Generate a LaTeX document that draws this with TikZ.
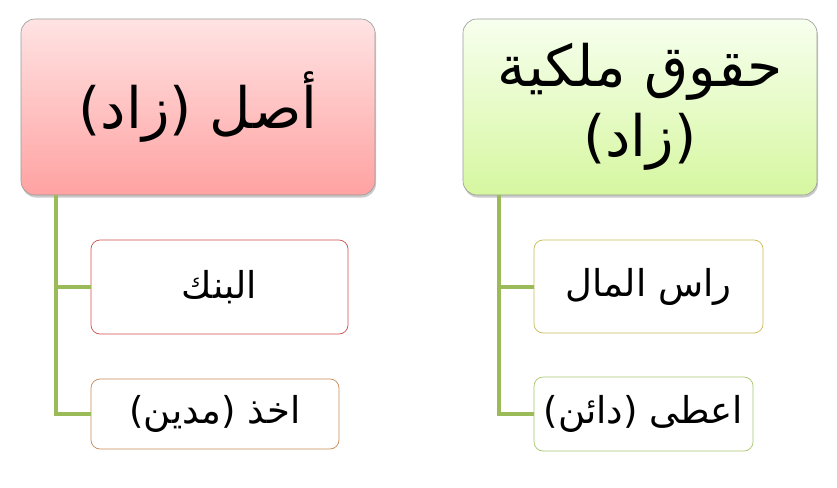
\documentclass[tikz,border=0pt]{standalone}
\usepackage{fontspec}
\newfontfamily\arabicfont[Script=Arabic]{DejaVu Sans}
\TeXXeTstate=1
\usetikzlibrary{shadows}
\definecolor{linegreen}{HTML}{9BBB59}
\definecolor{pinktop}{HTML}{FFE3E3}
\definecolor{pinkbot}{HTML}{FFA2A2}
\definecolor{greentop}{HTML}{F7FFEE}
\definecolor{greenbot}{HTML}{D6F7A0}
\definecolor{bRed}{HTML}{D0504D}
\definecolor{bOrange}{HTML}{C98A55}
\definecolor{bOlive}{HTML}{C8BA58}
\definecolor{bGreen}{HTML}{A8C670}
\tikzset{
  header/.style={draw=black!40, line width=0.6pt, rounded corners=14pt,
    minimum width=354pt, minimum height=176pt, align=center,
    font=\arabicfont\fontsize{57}{70}\selectfont,
    drop shadow={shadow xshift=1pt, shadow yshift=-2.5pt, opacity=0.35, fill=black!60}},
  child/.style={draw, line width=0.7pt, rounded corners=9pt, fill=white,
    align=center, font=\arabicfont\fontsize{37}{44}\selectfont},
  conn/.style={draw=linegreen, line width=4pt}
}
\begin{document}
\begin{tikzpicture}[x=1pt,y=-1pt]
\useasboundingbox (0,0) rectangle (837,487);
% headers
\node[header, top color=pinktop, bottom color=pinkbot] (lh) at (198,107) {\beginR أصل (زاد)\endR};
\node[header, top color=greentop, bottom color=greenbot] (rh) at (640,107) {\beginR حقوق ملكية\endR\\\beginR(زاد)\endR};
% children
\node[child, draw=bRed, minimum width=257pt, minimum height=94pt] (l1) at (219.5,287) {\beginR البنك\endR};
\node[child, draw=bOrange, minimum width=248pt, minimum height=70pt] (l2) at (215,414) {\beginR اخذ (مدين)\endR};
\node[child, draw=bOlive, minimum width=229pt, minimum height=93pt] (r1) at (648.5,286.5) {\beginR راس المال\endR};
\node[child, draw=bGreen, minimum width=219pt, minimum height=74pt] (r2) at (643.5,414) {\beginR اعطى (دائن)\endR};
% connectors
\coordinate (lt) at (56,195);
\coordinate (rt) at (499,195);
\draw[conn] (lt) |- (l1.west);
\draw[conn] (lt) |- (l2.west);
\draw[conn] (rt) |- (r1.west);
\draw[conn] (rt) |- (r2.west);
\end{tikzpicture}
\end{document}
